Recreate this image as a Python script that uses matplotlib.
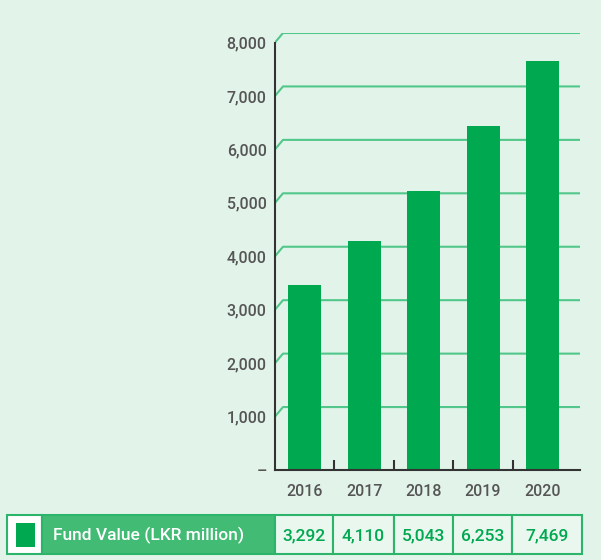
import matplotlib.pyplot as plt
from matplotlib.patches import Rectangle
from numpy import arange, array

years = ['2016', '2017', '2018', '2019', '2020']
fund_value = [3292, 4110, 5043, 6253, 7469]
y_ticks = [0, 1000, 2000, 3000, 4000, 5000, 6000, 7000, 8000]
series_label = 'Fund Value (LKR million)'

bg = '#e2f4ea'
bar_green = '#00a84f'
grid_green = '#52c78a'
cell_green = '#42bb75'
text_grey = '#555555'

plt.rcParams['font.family'] = ['Roboto', 'DejaVu Sans']

fig = plt.figure(figsize=(6.01, 5.6), dpi=100, facecolor=bg)

# chart area: back wall scale is the value scale, front edge sits "depth" lower
depth = 178
x_left, x_right = -0.5, 4.63
slant = 0.134

ax = fig.add_axes([275 / 601, 90 / 560, 305 / 601, 437 / 560])
ax.set_facecolor(bg)
ax.set_xlim(x_left, x_right)
ax.set_ylim(-depth, 8000)

x = arange(len(years))
vals = array(fund_value)
ax.bar(x, vals + depth, bottom=-depth, width=0.555, color=bar_green, zorder=3)

for v in y_ticks[1:]:
    ax.plot([x_left, x_left + slant, x_right], [v - depth, v, v],
            color=grid_green, lw=1.5, zorder=1, solid_capstyle='butt')

for side in ['top', 'right']:
    ax.spines[side].set_visible(False)
ax.spines['left'].set_bounds(-depth, y_ticks[-1] - depth)
for side in ['left', 'bottom']:
    ax.spines[side].set_color('#333333')
    ax.spines[side].set_linewidth(1.5)
    ax.spines[side].set_zorder(4)

ax.set_yticks([v - depth for v in y_ticks])
ax.set_yticklabels(['–'] + ['{:,}'.format(v) for v in y_ticks[1:]])
ax.tick_params(axis='y', length=0, pad=6, labelsize=11.5, labelcolor=text_grey)

ax.set_xticks(x)
ax.set_xticklabels(years)
ax.tick_params(axis='x', which='major', length=0, pad=10, labelsize=11.5, labelcolor=text_grey)
ax.set_xticks(x[:-1] + 0.5, minor=True)
ax.tick_params(axis='x', which='minor', direction='in', length=7, width=1.5, color='#333333')
for lab in ax.get_xticklabels() + ax.get_yticklabels():
    lab.set_fontweight('medium')

# data table below the chart, in pixel coordinates
tab = fig.add_axes([0, 0, 1, 1], facecolor='none')
tab.set_xlim(0, 601)
tab.set_ylim(560, 0)
tab.axis('off')

top, bottom = 515, 554
edges = [275, 333, 394, 453, 512, 581.5]
tab.add_patch(Rectangle((7, top), 35, bottom - top, facecolor='white',
                        edgecolor='#2db46b', lw=1.5))
tab.add_patch(Rectangle((16, 523), 19, 24, facecolor=bar_green, edgecolor='none'))
tab.add_patch(Rectangle((42, top), edges[0] - 42, bottom - top, facecolor=cell_green,
                        edgecolor='#2db46b', lw=1.5))
tab.text(53, (top + bottom) / 2 + 1, series_label, color='white', fontsize=12.5,
         fontweight='medium', va='center', ha='left')
for i, v in enumerate(fund_value):
    tab.add_patch(Rectangle((edges[i], top), edges[i + 1] - edges[i], bottom - top,
                            facecolor='#e9f7ef', edgecolor='#2db46b', lw=1.5))
    tab.text((edges[i] + edges[i + 1]) / 2, (top + bottom) / 2 + 1, '{:,}'.format(v),
             color=bar_green, fontsize=12.5, fontweight='medium', va='center', ha='center')

fig.savefig('out.png', dpi=100, facecolor=bg)
